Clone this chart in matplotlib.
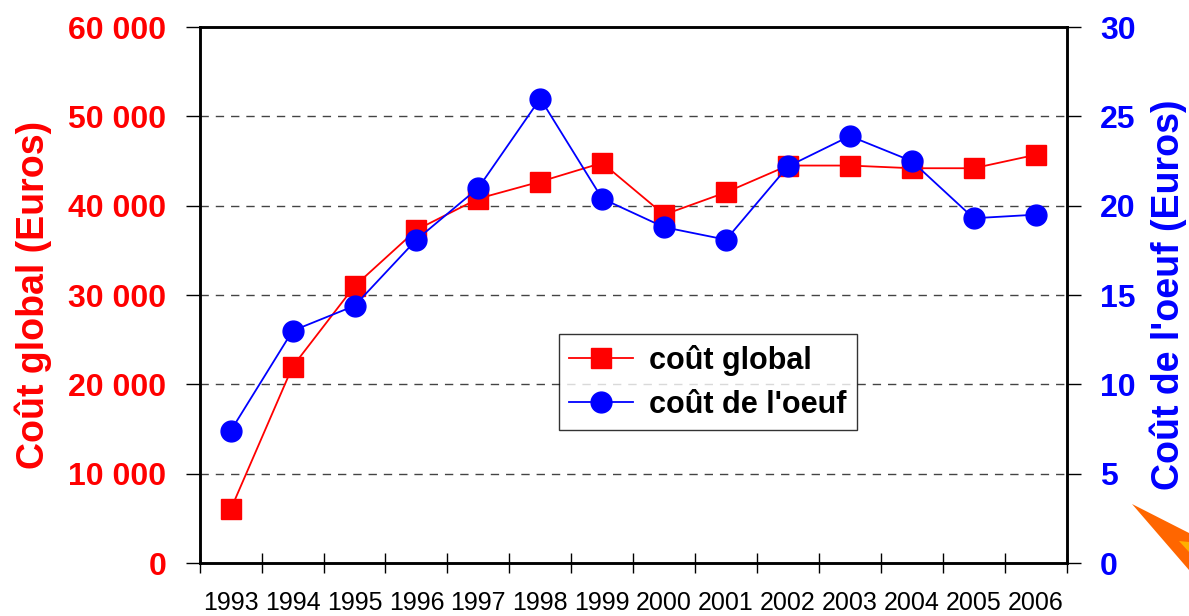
import numpy as np
import matplotlib.pyplot as plt
from matplotlib.patches import Polygon

years = ['1993', '1994', '1995', '1996', '1997', '1998', '1999',
         '2000', '2001', '2002', '2003', '2004', '2005', '2006']

# coût global (Euros), left axis
cout_global = [6000, 22000, 31000, 37300, 40800, 42700, 44800,
               39000, 41500, 44500, 44500, 44200, 44200, 45700]

# coût de l'oeuf (Euros), right axis
cout_oeuf = [7.4, 13.0, 14.4, 18.1, 21.0, 26.0, 20.4,
             18.8, 18.1, 22.2, 23.9, 22.5, 19.3, 19.5]

left_ticks = [0, 10000, 20000, 30000, 40000, 50000, 60000]
left_labels = ['0', '10 000', '20 000', '30 000', '40 000', '50 000', '60 000']
right_ticks = [0, 5, 10, 15, 20, 25, 30]

plt.rcParams['font.family'] = ['Liberation Sans', 'DejaVu Sans']

fig = plt.figure(figsize=(11.89, 6.16), dpi=100)
ax = fig.add_axes([0.168, 0.086, 0.729, 0.870])
ax2 = ax.twinx()

x = np.arange(len(years))

l1, = ax.plot(x, cout_global, color='#ff0000', lw=1.3, marker='s',
              markersize=14, markeredgecolor='#ff0000', zorder=3,
              label='coût global')
l2, = ax2.plot(x, cout_oeuf, color='#0000ff', lw=1.3, marker='o',
               markersize=15, markeredgecolor='#0000ff', zorder=3,
               label="coût de l'oeuf")

ax.set_xlim(-0.5, len(years) - 0.5)
ax.set_ylim(0, 60000)
ax2.set_ylim(0, 30)

# grid lines
for v in left_ticks[1:-1]:
    ax.axhline(v, color='#444444', lw=1.0, ls=(0, (6, 5)), zorder=1)

# x axis: labels centred on categories, tick marks between
ax.set_xticks(x)
ax.set_xticklabels(years, fontsize=18)
ax.tick_params(axis='x', which='major', length=0, pad=20)
ax.set_xticks(np.arange(len(years) + 1) - 0.5, minor=True)
ax.tick_params(axis='x', which='minor', direction='inout', length=14, width=1)

ax.set_yticks(left_ticks)
ax.set_yticklabels(left_labels, fontsize=23, fontweight='bold', color='#ff0000')
ax.tick_params(axis='y', direction='out', length=10, width=1, pad=14)

ax2.set_yticks(right_ticks)
ax2.set_yticklabels([str(t) for t in right_ticks], fontsize=23,
                    fontweight='bold', color='#0000ff')
ax2.tick_params(axis='y', direction='out', length=10, width=1, pad=14)

for a in (ax, ax2):
    for s in a.spines.values():
        s.set_linewidth(1.8)

ax.set_ylabel('Coût global (Euros)', fontsize=27, fontweight='bold',
              color='#ff0000', labelpad=12)
ax2.set_ylabel("Coût de l'oeuf (Euros)", fontsize=27, fontweight='bold',
               color='#0000ff', labelpad=10)

leg = ax2.legend(handles=[l1, l2], loc='upper left',
                 bbox_to_anchor=(0.414, 0.427), borderaxespad=0,
                 prop={'weight': 'bold', 'size': 22}, frameon=True,
                 fancybox=False, edgecolor='black', handlelength=2.1,
                 borderpad=0.35, labelspacing=0.45, handletextpad=0.5)
leg.get_frame().set_linewidth(1.0)

# orange decoration in the bottom right corner
def fpt(px, py):
    return (px / 1189, 1 - py / 616)

fig.patches.append(Polygon([fpt(1132, 504), fpt(1189, 533), fpt(1189, 570)],
                           closed=True, facecolor='#ff6600', edgecolor='none',
                           transform=fig.transFigure))
fig.patches.append(Polygon([fpt(1179, 541), fpt(1189, 542), fpt(1189, 552)],
                           closed=True, facecolor='#ffb000', edgecolor='none',
                           transform=fig.transFigure))

fig.savefig('out.png', dpi=100)
